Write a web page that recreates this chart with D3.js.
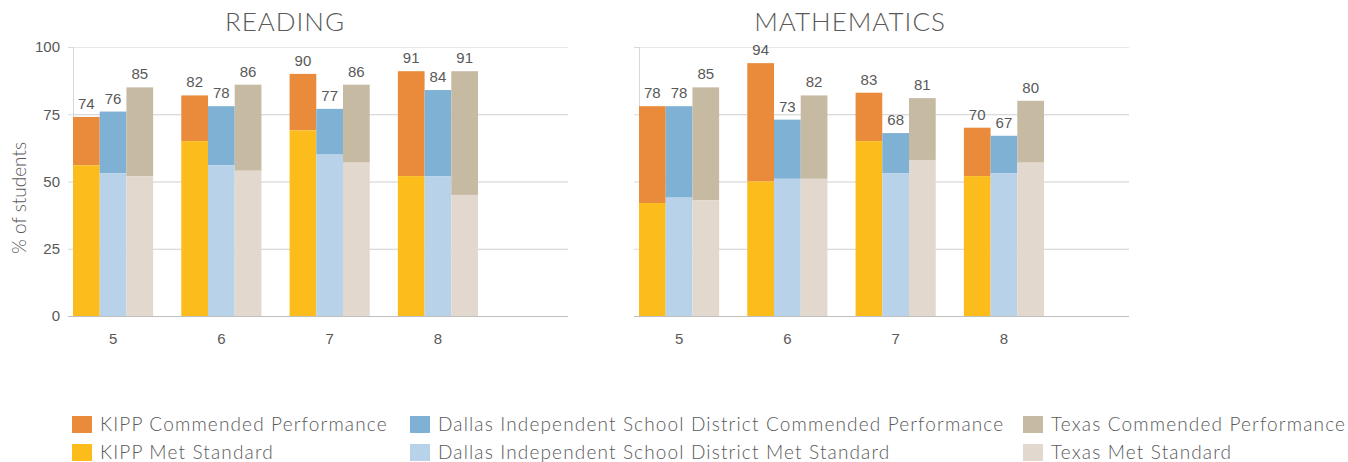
<!DOCTYPE html>
<html>
<head>
<meta charset="utf-8">
<script src="https://cdn.jsdelivr.net/npm/d3@7"></script>
<style>
  body { margin: 0; background: #fff; }
  svg text { fill: #595959; }
  .title { font-family: Lato, "Open Sans", sans-serif; font-weight: 300; font-size: 26px; letter-spacing: 1px; }
  .val, .tick text { font-family: "Liberation Sans", Arial, sans-serif; font-size: 15px; }
  .lab { font-family: Lato, "Open Sans", sans-serif; font-weight: 300; font-size: 19px; }
  .leg text { letter-spacing: 1.15px; }
</style>
</head>
<body>
<script>
var grades = ["5", "6", "7", "8"];
var yTicks = [0, 25, 50, 75, 100];
var orgs = ["KIPP", "Dallas", "Texas"];

// label on top of each bar = total, lighter part = met standard
var readingKippTotal = [74, 82, 90, 91];
var readingKippMet = [56, 65, 69, 52];
var readingDallasTotal = [76, 78, 77, 84];
var readingDallasMet = [53, 56, 60, 52];
var readingTexasTotal = [85, 86, 86, 91];
var readingTexasMet = [52, 54, 57, 45];

var mathKippTotal = [78, 94, 83, 70];
var mathKippMet = [42, 50, 65, 52];
var mathDallasTotal = [78, 73, 68, 67];
var mathDallasMet = [44, 51, 53, 53];
var mathTexasTotal = [85, 82, 81, 80];
var mathTexasMet = [43, 51, 58, 57];

var legendLabels = [
  "KIPP Commended Performance", "KIPP Met Standard",
  "Dallas Independent School District Commended Performance", "Dallas Independent School District Met Standard",
  "Texas Commended Performance", "Texas Met Standard"
];

var topColor = {KIPP: "#e98b3a", Dallas: "#7fb1d4", Texas: "#c7baa3"};
var metColor = {KIPP: "#fbbc1c", Dallas: "#b8d2ea", Texas: "#e2d8ce"};

var svg = d3.select("body").append("svg")
    .attr("width", 1348)
    .attr("height", 462);

var y = d3.scaleLinear().domain([0, 100]).range([316, 47]);

function rows(kt, km, dt, dm, tt, tm) {
  return grades.map(function(g, i) {
    return {grade: g, bars: [
      {org: "KIPP", total: kt[i], met: km[i]},
      {org: "Dallas", total: dt[i], met: dm[i]},
      {org: "Texas", total: tt[i], met: tm[i]}
    ]};
  });
}

function panel(title, data, left, right, titleX, showY) {
  var g = svg.append("g");
  var x = d3.scaleBand().domain(grades).range([left, left + 405]).paddingInner(0.26).paddingOuter(0);
  var x1 = d3.scaleBand().domain(orgs).range([0, x.bandwidth()]);

  // gridlines
  g.append("g")
    .attr("transform", "translate(" + left + ",0)")
    .call(d3.axisRight(y).tickValues(yTicks).tickSize(right - left).tickFormat(""))
    .call(function(s) {
      s.select(".domain").remove();
      s.selectAll(".tick line").attr("stroke", function(d) { return d == 100 ? "#e8e8e8" : "#cfcfcf"; });
    });

  // y ticks
  var ya = g.append("g")
    .attr("transform", "translate(" + left + ",0)")
    .call(d3.axisLeft(y).tickValues(yTicks).tickSize(5).tickPadding(8).tickFormat(showY ? d3.format("d") : ""));
  ya.select(".domain").attr("stroke", "#d9d9d9").attr("d", "M0.5," + y(100) + "V" + y(0));
  ya.selectAll(".tick line").attr("stroke", "#d9d9d9");
  ya.selectAll(".tick text").attr("fill", "#595959");

  var grp = g.selectAll(".grp")
    .data(data)
    .enter().append("g")
    .attr("transform", function(d) { return "translate(" + x(d.grade) + ",0)"; });

  var bar = grp.selectAll(".bar")
    .data(function(d) { return d.bars; })
    .enter().append("g");

  bar.append("rect")
    .attr("x", function(d) { return x1(d.org); })
    .attr("y", function(d) { return y(d.total); })
    .attr("width", x1.bandwidth())
    .attr("height", function(d) { return y(d.met) - y(d.total); })
    .attr("fill", function(d) { return topColor[d.org]; });

  bar.append("rect")
    .attr("x", function(d) { return x1(d.org); })
    .attr("y", function(d) { return y(d.met); })
    .attr("width", x1.bandwidth())
    .attr("height", function(d) { return y(0) - y(d.met); })
    .attr("fill", function(d) { return metColor[d.org]; });

  bar.append("text")
    .attr("class", "val")
    .attr("x", function(d) { return x1(d.org) + x1.bandwidth() / 2; })
    .attr("y", function(d) { return y(d.total) - 8; })
    .attr("text-anchor", "middle")
    .text(function(d) { return d.total; });

  // x axis
  var xa = g.append("g")
    .attr("transform", "translate(0," + y(0) + ")")
    .call(d3.axisBottom(x).tickSize(0).tickPadding(17));
  xa.select(".domain").attr("stroke", "#bfbfbf").attr("d", "M" + (left - 5) + ",0.5H" + right);
  xa.selectAll(".tick text").attr("fill", "#595959");

  svg.append("text")
    .attr("class", "title")
    .attr("x", titleX)
    .attr("y", 31)
    .attr("text-anchor", "middle")
    .text(title);
}

panel("READING", rows(readingKippTotal, readingKippMet, readingDallasTotal, readingDallasMet, readingTexasTotal, readingTexasMet), 73, 568, 285, true);
panel("MATHEMATICS", rows(mathKippTotal, mathKippMet, mathDallasTotal, mathDallasMet, mathTexasTotal, mathTexasMet), 639, 1129, 850, false);

// y axis label
svg.append("text")
  .attr("class", "lab")
  .attr("transform", "rotate(-90)")
  .attr("x", -198)
  .attr("y", 26)
  .attr("text-anchor", "middle")
  .text("% of students");

// legend
var legendX = [72, 410, 1023];
var legendY = [416, 444];
var legendColors = [topColor.KIPP, metColor.KIPP, topColor.Dallas, metColor.Dallas, topColor.Texas, metColor.Texas];
var leg = svg.selectAll(".leg")
  .data(legendLabels)
  .enter().append("g")
  .attr("class", "leg")
  .attr("transform", function(d, i) { return "translate(" + legendX[Math.floor(i / 2)] + "," + legendY[i % 2] + ")"; });
leg.append("rect")
  .attr("width", 20).attr("height", 17)
  .attr("fill", function(d, i) { return legendColors[i]; });
leg.append("text")
  .attr("class", "lab")
  .attr("x", 28)
  .attr("y", 15)
  .text(function(d) { return d; });
</script>
</body>
</html>
